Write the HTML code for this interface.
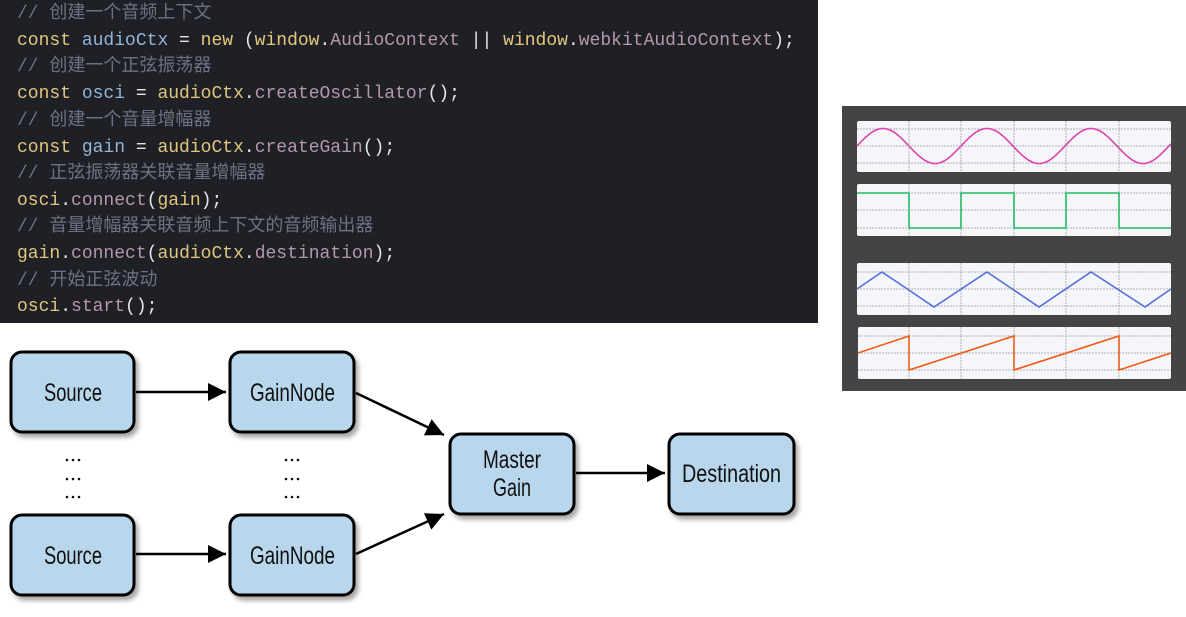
<!DOCTYPE html>
<html><head><meta charset="utf-8"><style>
html,body{margin:0;padding:0;background:#fff;width:1186px;height:617px;overflow:hidden;position:relative}
#code{position:absolute;left:0;top:0;width:818px;height:323px;background:#1f2026;font-family:"Liberation Mono","Noto Sans CJK SC",monospace;font-size:18px;color:#e6e6e6}
#code div{position:absolute;left:17px;white-space:pre;line-height:24px}
.k{color:#e0c77d}.v{color:#93b5d6}.m{color:#b597ab}.c{color:#6c7283}
</style></head><body>
<div id="code">
<div style="top:2px" class="c">// 创建一个音频上下文</div>
<div style="top:29px"><span class="k">const</span> <span class="v">audioCtx</span> = <span class="k">new</span> (<span class="k">window</span>.<span class="m">AudioContext</span> || <span class="k">window</span>.<span class="m">webkitAudioContext</span>);</div>
<div style="top:55px" class="c">// 创建一个正弦振荡器</div>
<div style="top:82px"><span class="k">const</span> <span class="v">osci</span> = <span class="k">audioCtx</span>.<span class="m">createOscillator</span>();</div>
<div style="top:109px" class="c">// 创建一个音量增幅器</div>
<div style="top:136px"><span class="k">const</span> <span class="v">gain</span> = <span class="k">audioCtx</span>.<span class="m">createGain</span>();</div>
<div style="top:162px" class="c">// 正弦振荡器关联音量增幅器</div>
<div style="top:189px"><span class="k">osci</span>.<span class="m">connect</span>(<span class="k">gain</span>);</div>
<div style="top:215px" class="c">// 音量增幅器关联音频上下文的音频输出器</div>
<div style="top:242px"><span class="k">gain</span>.<span class="m">connect</span>(<span class="k">audioCtx</span>.<span class="m">destination</span>);</div>
<div style="top:269px" class="c">// 开始正弦波动</div>
<div style="top:295px"><span class="k">osci</span>.<span class="m">start</span>();</div>
</div>

<svg width="1186" height="617" style="position:absolute;left:0;top:0">
<defs>
<filter id="sh" x="-20%" y="-20%" width="150%" height="150%"><feDropShadow dx="3" dy="4" stdDeviation="2.5" flood-color="#000" flood-opacity="0.35"/></filter>
<marker id="ar2" markerWidth="20" markerHeight="18" refX="18" refY="9" orient="auto" markerUnits="userSpaceOnUse"><path d="M0,0 L18,9 L0,18z" fill="#000"/></marker>
</defs>
<rect x="842" y="106" width="344" height="285" fill="#444"/>
<g>
<rect x="857" y="121" width="314" height="51" rx="2" fill="#f5f6fa"/>
<rect x="857" y="184" width="314" height="52" rx="2" fill="#f5f6fa"/>
<rect x="857" y="263" width="314" height="52" rx="2" fill="#f5f6fa"/>
<rect x="858" y="327" width="313" height="52" rx="2" fill="#f5f6fa"/>
</g>
<g stroke="#b0b0b0" stroke-width="1" stroke-dasharray="2,1">
<path d="M909,121V172M961,121V172M1014,121V172M1066,121V172M1119,121V172
M909,184V236M961,184V236M1014,184V236M1066,184V236M1119,184V236
M909,263V315M961,263V315M1014,263V315M1066,263V315M1119,263V315
M909,327V379M961,327V379M1014,327V379M1066,327V379M1119,327V379"/>
<path d="M857,129H1171M857,146H1171M857,163H1171M857,193H1171M857,210H1171M857,228H1171M857,272H1171M857,289H1171M857,306H1171M858,336H1171M858,353H1171M858,370H1171"/>
</g>
<path id="sine" fill="none" stroke="#e040b0" stroke-width="1.6" d=""/>
<path fill="none" stroke="#22bb66" stroke-width="1.6" d="M857,193H909V228H961V193H1014V228H1066V193H1119V228H1171"/>
<path fill="none" stroke="#5570dd" stroke-width="1.6" d="M857,289L882,272L934,307L987,272L1039,307L1091,272L1145,307L1171,289"/>
<path fill="none" stroke="#f05a14" stroke-width="1.6" d="M858,353L909,336V370L1014,336V370L1119,336V370L1171,353"/>

<g stroke="#000" stroke-width="2.5" fill="none">
<line x1="136" y1="392" x2="226" y2="392" marker-end="url(#ar2)"/>
<line x1="136" y1="554" x2="226" y2="554" marker-end="url(#ar2)"/>
<line x1="356" y1="393" x2="444" y2="435" marker-end="url(#ar2)"/>
<line x1="356" y1="554" x2="444" y2="514" marker-end="url(#ar2)"/>
<line x1="576" y1="473" x2="665" y2="473" marker-end="url(#ar2)"/>
</g>
<g fill="#b8d6ec" stroke="#000" stroke-width="3" filter="url(#sh)">
<rect x="11" y="352" width="123" height="80" rx="11"/>
<rect x="230" y="352" width="124" height="80" rx="11"/>
<rect x="11" y="515" width="123" height="80" rx="11"/>
<rect x="230" y="515" width="124" height="80" rx="11"/>
<rect x="450" y="434" width="124" height="80" rx="11"/>
<rect x="669" y="434" width="125" height="80" rx="11"/>
</g>
<g font-family="'Liberation Sans',sans-serif" font-size="25" fill="#111" lengthAdjust="spacingAndGlyphs">
<text x="44" y="401" textLength="58" lengthAdjust="spacingAndGlyphs">Source</text>
<text x="250" y="401" textLength="85" lengthAdjust="spacingAndGlyphs">GainNode</text>
<text x="44" y="564" textLength="58" lengthAdjust="spacingAndGlyphs">Source</text>
<text x="250" y="564" textLength="85" lengthAdjust="spacingAndGlyphs">GainNode</text>
<text x="483" y="468" textLength="58" lengthAdjust="spacingAndGlyphs">Master</text>
<text x="493" y="496" textLength="38" lengthAdjust="spacingAndGlyphs">Gain</text>
<text x="682" y="482" textLength="99" lengthAdjust="spacingAndGlyphs">Destination</text>
</g>
<g fill="#111">
<g id="dots"><circle cx="67" cy="460" r="1.3"/><circle cx="73" cy="460" r="1.3"/><circle cx="79" cy="460" r="1.3"/>
<circle cx="67" cy="479" r="1.3"/><circle cx="73" cy="479" r="1.3"/><circle cx="79" cy="479" r="1.3"/>
<circle cx="67" cy="497" r="1.3"/><circle cx="73" cy="497" r="1.3"/><circle cx="79" cy="497" r="1.3"/></g>
<use href="#dots" x="219"/>
</g>
</svg>
<script>
var d="";for(var x=857;x<=1171;x++){var y=146-17.5*Math.sin((x-857)/104*2*Math.PI);d+=(x==857?"M":"L")+x+","+y.toFixed(1);}
document.getElementById("sine").setAttribute("d",d);
</script>
</body></html>
